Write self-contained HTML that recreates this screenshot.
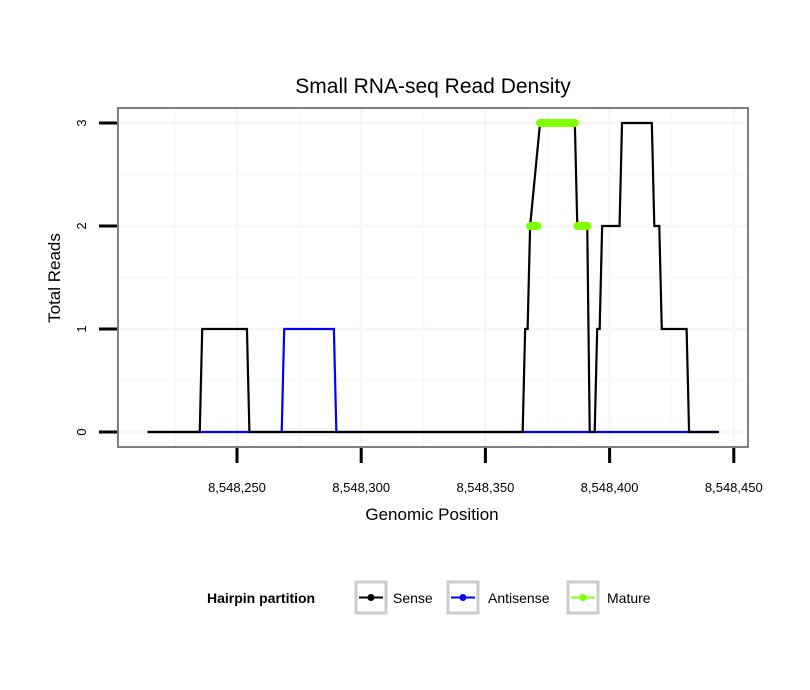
<!DOCTYPE html>
<html><head><meta charset="utf-8"><style>
body{margin:0;background:#fff;}
svg{display:block;font-family:"Liberation Sans",sans-serif;}
</style></head><body>
<svg id="chart" width="810" height="690" viewBox="0 0 810 690">
<text x="433" y="93" font-size="21" text-anchor="middle">Small RNA-seq Read Density</text>
<rect x="118" y="108" width="630" height="339" fill="#fff"/>
<g id="grid"></g>
<g id="series"></g>
<rect x="118" y="108" width="630" height="339" fill="none" stroke="#7f7f7f" stroke-width="2"/>
<g id="axes"></g>
<text x="432" y="520" font-size="17" text-anchor="middle">Genomic Position</text>
<text transform="translate(60,278) rotate(-90)" font-size="17" text-anchor="middle">Total Reads</text>
<g>
<text x="207" y="603" font-size="14" font-weight="bold">Hairpin partition</text>
<g>
<rect x="356" y="582" width="30" height="31" fill="#fff" stroke="#ccc" stroke-width="3"/>
<line x1="359" y1="597.5" x2="383" y2="597.5" stroke="#000" stroke-width="2"/><circle cx="371" cy="597.5" r="3.5" fill="#000"/>
<text x="393" y="603" font-size="14">Sense</text></g>
<g>
<rect x="448" y="582" width="30" height="31" fill="#fff" stroke="#ccc" stroke-width="3"/>
<line x1="451" y1="597.5" x2="475" y2="597.5" stroke="#0000ff" stroke-width="2"/><circle cx="463" cy="597.5" r="3.5" fill="#0000ff"/>
<text x="488" y="603" font-size="14">Antisense</text></g>
<g>
<rect x="568" y="582" width="30" height="31" fill="#fff" stroke="#ccc" stroke-width="3"/>
<line x1="571" y1="597.5" x2="595" y2="597.5" stroke="#7fff00" stroke-width="2"/><circle cx="583" cy="597.5" r="3.5" fill="#7fff00"/>
<text x="607" y="603" font-size="14">Mature</text></g>
</g>
</svg>
<script>
const senseData=[[8548214,0],[8548235,0],[8548236,1],[8548254,1],[8548255,0],[8548365,0],[8548366,1],[8548367,1],[8548368,2],[8548372,3],[8548386,3],[8548387,2],[8548391,2],[8548392,0],[8548394,0],[8548395,1],[8548396,1],[8548397,2],[8548404,2],[8548405,3],[8548417,3],[8548418,2],[8548420,2],[8548421,1],[8548431,1],[8548432,0],[8548444,0]];
const antisenseData=[[8548214,0],[8548268,0],[8548269,1],[8548289,1],[8548290,0],[8548444,0]];
const matureStart=[8548368,8548372,8548387];
const matureEnd=[8548371,8548386,8548391];
const matureValue=[2,3,2];
const xTicks=[8548250,8548300,8548350,8548400,8548450];
const xMinor=[8548225,8548275,8548325,8548375,8548425];
const yTicks=[0,1,2,3];
const yMinor=[0.5,1.5,2.5];
const NS="http://www.w3.org/2000/svg";
const X=v=>237+(v-8548250)*2.484;
const Y=v=>432-v*103;
function mk(tag,attrs,parent){const e=document.createElementNS(NS,tag);for(const k in attrs)e.setAttribute(k,attrs[k]);parent.appendChild(e);return e;}
const grid=document.getElementById('grid'),series=document.getElementById('series'),axes=document.getElementById('axes');
xMinor.forEach(v=>{const l=mk('line',{x1:X(v),x2:X(v),y1:109,y2:446,stroke:'#fafafa','stroke-width':2},grid);

});
xTicks.forEach(v=>{if(X(v)<748){const l=mk('line',{x1:X(v),x2:X(v),y1:109,y2:446,stroke:'#f7f7f7','stroke-width':3},grid);

}});
yMinor.forEach(v=>{const l=mk('line',{x1:119,x2:747,y1:Y(v),y2:Y(v),stroke:'#fafafa','stroke-width':2},grid);

});
yTicks.forEach(v=>{const l=mk('line',{x1:119,x2:747,y1:Y(v),y2:Y(v),stroke:'#f7f7f7','stroke-width':3},grid);

});
const pts=d=>d.map(p=>X(p[0])+','+Y(p[1])).join(' ');
const a=mk('polyline',{points:pts(antisenseData),fill:'none',stroke:'#0000ff','stroke-width':2.2},series);


const s=mk('polyline',{points:pts(senseData),fill:'none',stroke:'#000','stroke-width':2.2},series);


matureStart.forEach((st,i)=>{const m=mk('line',{x1:X(st),x2:X(matureEnd[i]),y1:Y(matureValue[i]),y2:Y(matureValue[i]),stroke:'#7fff00','stroke-width':8,'stroke-linecap':'round'},series);

});
xTicks.forEach(v=>{const t=mk('line',{x1:X(v),x2:X(v),y1:448,y2:463,stroke:'#000','stroke-width':3},axes);


const tx=mk('text',{x:X(v),y:492,'font-size':13,'text-anchor':'middle'},axes);
tx.textContent=v.toLocaleString('en-US');

});
yTicks.forEach(v=>{const t=mk('line',{x1:99,x2:117,y1:Y(v),y2:Y(v),stroke:'#000','stroke-width':3},axes);


const tx=mk('text',{transform:`translate(86,${Y(v)}) rotate(-90)`,'font-size':13,'text-anchor':'middle'},axes);
tx.textContent=String(v);

});
</script>
</body></html>
